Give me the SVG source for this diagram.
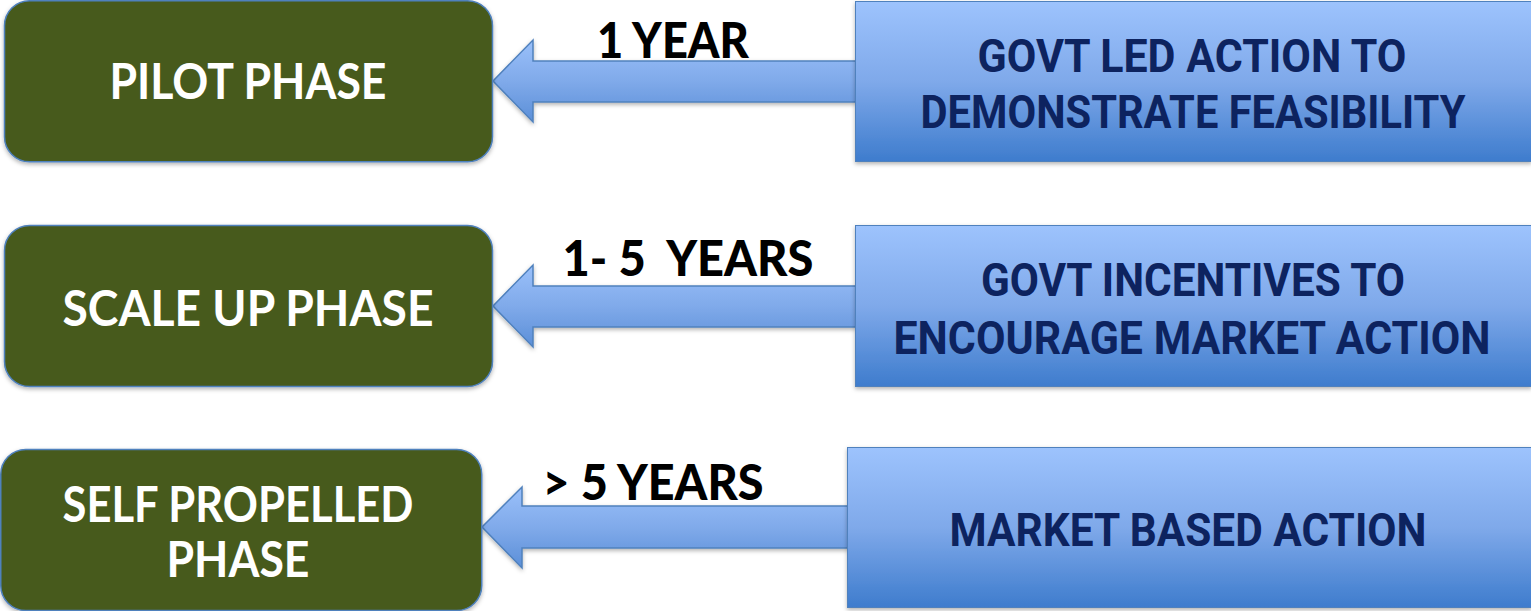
<svg xmlns="http://www.w3.org/2000/svg" width="1531" height="611" viewBox="0 0 1531 611">
<style>
.phase{fill:#465a1e;stroke:#4f81bd;stroke-width:1.5}
.phtxt{font-family:Lato,"DejaVu Sans",sans-serif;font-weight:bold;fill:#ffffff;text-anchor:middle;font-size:49px}
.act{fill:url(#boxg);stroke:#4f81bd;stroke-width:1}
.acttxt{font-family:"Liberation Sans Narrow",Roboto,"Liberation Sans",sans-serif;font-weight:bold;fill:#0d235f;text-anchor:middle;font-size:46px}
.arr{fill:url(#arrg);stroke:#4f81bd;stroke-width:1.5;stroke-linejoin:miter}
.tl{font-family:Lato,"DejaVu Sans",sans-serif;font-weight:900;fill:#000000;text-anchor:middle;font-size:49px}
</style>
<defs>
<linearGradient id="boxg" x1="0" y1="0" x2="0" y2="1">
<stop offset="0" stop-color="#9dc3fd"/>
<stop offset="0.5" stop-color="#7fa9ea"/>
<stop offset="1" stop-color="#3e7ccd"/>
</linearGradient>
<linearGradient id="arrg" x1="0" y1="0" x2="0" y2="1">
<stop offset="0" stop-color="#9ac0fa"/>
<stop offset="0.5" stop-color="#80aaea"/>
<stop offset="1" stop-color="#5b8fd8"/>
</linearGradient>
<filter id="sh" x="-5%" y="-5%" width="110%" height="115%">
<feDropShadow dx="0" dy="2" stdDeviation="2" flood-color="#000" flood-opacity="0.3"/>
</filter>
</defs>
<g id="connectors">
<path class="arr" filter="url(#sh)" d="M493,81 L533,40 L533,61 L856,61 L856,102 L533,102 L533,122 Z"/>
<path class="arr" filter="url(#sh)" d="M493,306 L533,265 L533,286 L856,286 L856,327 L533,327 L533,347 Z"/>
<path class="arr" filter="url(#sh)" d="M482,527 L522,487 L522,506 L848,506 L848,548 L522,548 L522,568 Z"/>
</g>
<g id="pilot">
<rect class="phase" filter="url(#sh)" x="4.5" y="0.75" width="488" height="161" rx="25"/>
<text class="phtxt" x="248" y="99" textLength="277" lengthAdjust="spacingAndGlyphs">PILOT PHASE</text>
</g>
<g id="scaleup">
<rect class="phase" filter="url(#sh)" x="4.5" y="225.5" width="488" height="161" rx="25"/>
<text class="phtxt" x="248" y="326" textLength="371" lengthAdjust="spacingAndGlyphs">SCALE UP PHASE</text>
</g>
<g id="selfprop">
<rect class="phase" filter="url(#sh)" x="0.75" y="449.5" width="481" height="161" rx="25"/>
<text class="phtxt" x="238" y="522" textLength="351" lengthAdjust="spacingAndGlyphs">SELF PROPELLED</text>
<text class="phtxt" x="238" y="577" textLength="143" lengthAdjust="spacingAndGlyphs">PHASE</text>
</g>
<g id="govtled">
<rect class="act" filter="url(#sh)" x="855.5" y="1.5" width="676" height="160"/>
<text class="acttxt" x="1192" y="72" textLength="429" lengthAdjust="spacingAndGlyphs">GOVT LED ACTION TO</text>
<text class="acttxt" x="1193" y="128" textLength="545" lengthAdjust="spacingAndGlyphs">DEMONSTRATE FEASIBILITY</text>
</g>
<g id="govtinc">
<rect class="act" filter="url(#sh)" x="855.5" y="225.5" width="676" height="161"/>
<text class="acttxt" x="1193" y="296" textLength="424" lengthAdjust="spacingAndGlyphs">GOVT INCENTIVES TO</text>
<text class="acttxt" x="1192" y="354" textLength="597" lengthAdjust="spacingAndGlyphs">ENCOURAGE MARKET ACTION</text>
</g>
<g id="market">
<rect class="act" filter="url(#sh)" x="847.5" y="447.5" width="684" height="160"/>
<text class="acttxt" x="1188" y="546" textLength="477" lengthAdjust="spacingAndGlyphs">MARKET BASED ACTION</text>
</g>
<g id="labels">
<text class="tl" x="673" y="58" textLength="152" lengthAdjust="spacingAndGlyphs">1 YEAR</text>
<text class="tl" x="688" y="276" textLength="251" lengthAdjust="spacingAndGlyphs" xml:space="preserve">1- 5  YEARS</text>
<text class="tl" x="653" y="500" textLength="221" lengthAdjust="spacingAndGlyphs">&gt; 5 YEARS</text>
</g>
</svg>
